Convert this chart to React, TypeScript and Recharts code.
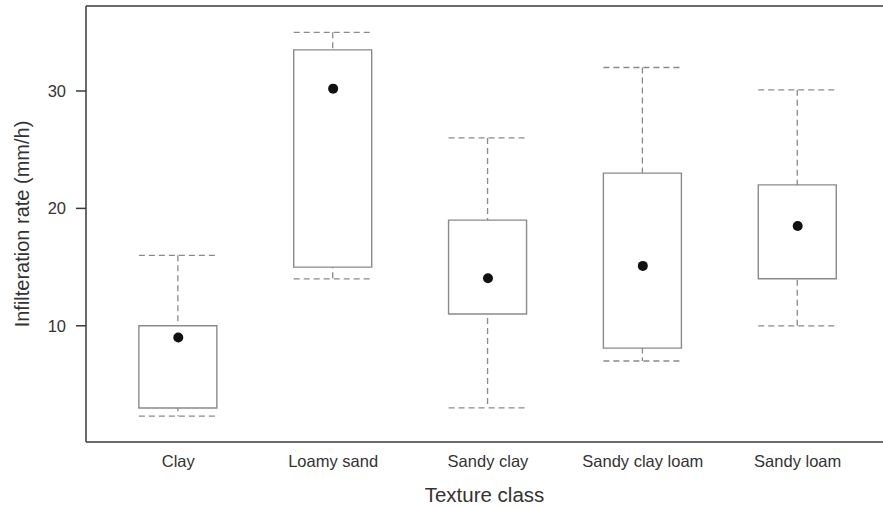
import { ComposedChart, Bar, Scatter, XAxis, YAxis, Label } from 'recharts';

const categories = ['Clay', 'Loamy sand', 'Sandy clay', 'Sandy clay loam', 'Sandy loam'];
const mins = [2.3, 14, 3, 7, 10];
const q1s = [3, 15, 11, 8.1, 14];
const q3s = [10, 33.5, 19, 23, 22];
const maxs = [16, 35, 26, 32, 30.1];
const means = [9, 30.2, 14.05, 15.1, 18.5];
const yTicks = [10, 20, 30];

const data = categories.map((name, i) => ({
  x: i + 1,
  name,
  whisker: [mins[i], maxs[i]],
  box: [q1s[i], q3s[i]],
  mean: means[i],
}));

const WHISKER = '#8a8a8a';
const BOX = '#8a8a8a';
const AXIS = '#3a3a3a';
const FONT = '"Liberation Sans", Arial, sans-serif';

function WhiskerShape(props: any) {
  const { x, y, width, height } = props;
  const cx = x + width / 2;
  return (
    <g stroke={WHISKER} strokeWidth={1.3} strokeDasharray="6 4" fill="none">
      <line x1={x} x2={x + width} y1={y} y2={y} />
      <line x1={x} x2={x + width} y1={y + height} y2={y + height} />
      <line x1={cx} x2={cx} y1={y} y2={y + height} />
    </g>
  );
}

function MeanDot(props: any) {
  return <circle cx={props.cx} cy={props.cy} r={5} fill="#111" />;
}

export default function App() {
  return (
    <div
      style={{
        position: 'absolute',
        left: 0,
        top: 0,
        width: 883,
        height: 508,
        overflow: 'hidden',
        fontFamily: FONT,
      }}
    >
      <ComposedChart
        width={890}
        height={508}
        data={data}
        margin={{ top: 5, right: 7, left: 0, bottom: 0 }}
      >
        <XAxis
          xAxisId="a"
          dataKey="x"
          type="number"
          domain={[0.404, 5.551]}
          ticks={[1, 2, 3, 4, 5]}
          tickFormatter={(v: number) => categories[v - 1] ?? ''}
          height={66}
          tickLine={false}
          tickSize={8}
          tickMargin={5}
          axisLine={{ stroke: AXIS, strokeWidth: 1.5 }}
          tick={{ fontSize: 16.5, fill: '#333', fontFamily: FONT }}
          allowDataOverflow
        >
          <Label
            value="Texture class"
            position="insideBottom"
            offset={6}
            style={{ fontSize: 20.5, fill: '#333', fontFamily: FONT }}
          />
        </XAxis>
        <XAxis
          xAxisId="b"
          dataKey="x"
          type="number"
          orientation="top"
          domain={[0.404, 5.551]}
          height={1}
          tick={false}
          tickLine={false}
          axisLine={{ stroke: AXIS, strokeWidth: 1.5 }}
          allowDataOverflow
        />
        <YAxis
          type="number"
          domain={[0.1, 37.24]}
          ticks={yTicks}
          width={86}
          tickSize={10}
          tickMargin={10}
          tickLine={{ stroke: AXIS, strokeWidth: 1.5 }}
          axisLine={{ stroke: AXIS, strokeWidth: 1.5 }}
          tick={{ fontSize: 16.5, fill: '#333', fontFamily: FONT }}
          allowDataOverflow
        >
          <Label
            value="Infilteration rate (mm/h)"
            angle={-90}
            position="insideLeft"
            offset={22}
            style={{ fontSize: 20, fill: '#333', fontFamily: FONT, textAnchor: 'middle' }}
          />
        </YAxis>
        <Bar
          xAxisId="a"
          dataKey="whisker"
          barSize={78}
          shape={WhiskerShape}
          isAnimationActive={false}
        />
        <Bar
          xAxisId="b"
          dataKey="box"
          barSize={78}
          fill="#ffffff"
          stroke={BOX}
          strokeWidth={1.4}
          isAnimationActive={false}
        />
        <Scatter xAxisId="a" dataKey="mean" shape={MeanDot} isAnimationActive={false} />
      </ComposedChart>
    </div>
  );
}
